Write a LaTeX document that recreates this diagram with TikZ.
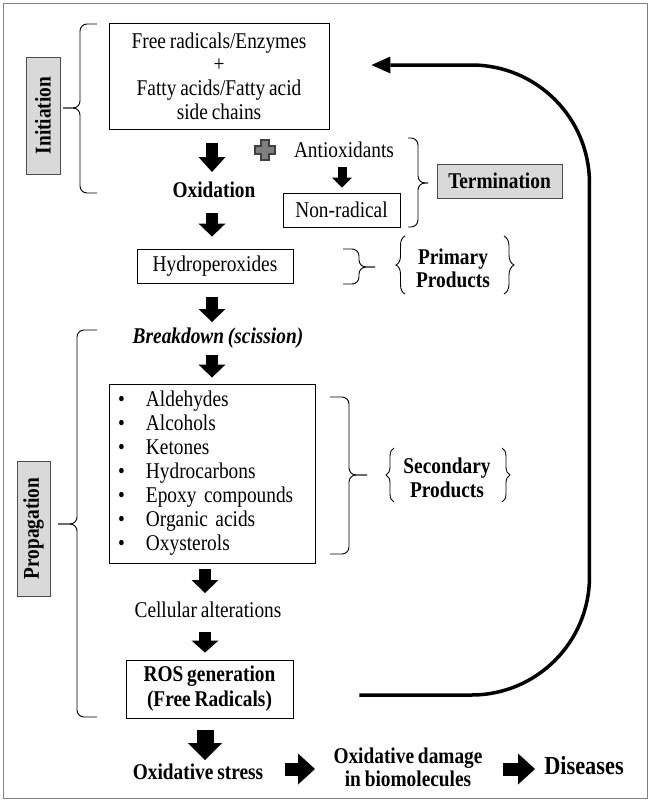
\documentclass[tikz,border=0pt]{standalone}
\usepackage{fontspec}
\setmainfont{Liberation Serif}[FakeStretch=0.86,WordSpace=0.8]
\usetikzlibrary{arrows.meta,calc,decorations.pathreplacing}
\newcommand{\mybr}[6]{%
  \draw[brc2] (#1,#4) -- (#2,#4) -- (#2,#6) -- (#3,#6);
  \draw[brc2] (#1,#5) -- (#2,#5) -- (#2,#6) -- (#3,#6);}
\begin{document}
\begin{tikzpicture}[x=1pt,y=-1pt,
  font=\fontsize{22.5}{24}\selectfont,
  box/.style={draw=black, line width=0.9pt, inner sep=0pt, align=center},
  lbl/.style={inner sep=0pt, align=center},
  bold/.style={inner sep=0pt, align=center, font=\fontsize{22.5}{24}\selectfont\bfseries},
  graybox/.style={draw=black!70, fill=black!15, line width=0.9pt, inner sep=0pt, font=\fontsize{22.5}{24}\selectfont\bfseries},
  blk/.style n args={3}{line width=#1, -{Triangle[width=#2,length=#3,line width=0pt]}},
  brc/.style={decorate, decoration={brace, amplitude=#1}, line width=0.9pt},
  brc2/.style={line width=0.9pt, rounded corners=7pt},
  loop/.style={line width=3.5pt, -{Triangle[width=17pt,length=19pt,line width=0pt]}, rounded corners=118pt}
]
\useasboundingbox (0,0) rectangle (650,801);
\draw[black!50, line width=1pt] (3,3) rectangle (647,798);

% nodes
\node[box, minimum width=220pt, minimum height=106pt, font=\fontsize{22.5}{23.7}\selectfont] (top) at (219,76)
  {Free radicals/Enzymes\\+\\Fatty acids/Fatty acid\\side chains};
\node[graybox, rotate=90, minimum width=117pt, minimum height=34pt] (init) at (43,115.5) {Initiation};
\node[bold] (ox) at (214,190) {Oxidation};
\node[lbl] (anti) at (344,150) {Antioxidants};
\node[box, minimum width=117pt, minimum height=34pt] (nr) at (341.5,210) {Non-radical};
\node[graybox, minimum width=125pt, minimum height=34pt] (term) at (499.5,181) {Termination};
\node[box, minimum width=156pt, minimum height=34pt] (hp) at (215,266) {Hydroperoxides};
\node[bold, font=\fontsize{22.5}{23}\selectfont\bfseries] (pp) at (453,268) {Primary\\Products};
\node[lbl, font=\fontsize{22.5}{24}\selectfont\bfseries\itshape] (bd) at (218,338) {Breakdown (scission)};
\node[box, align=left, text width=188pt, inner xsep=9pt, minimum height=179pt] (list) at (212,473.5)
  {\makebox[28pt][l]{\textbullet}Aldehydes\\
   \makebox[28pt][l]{\textbullet}Alcohols\\
   \makebox[28pt][l]{\textbullet}Ketones\\
   \makebox[28pt][l]{\textbullet}Hydrocarbons\\
   \makebox[28pt][l]{\textbullet}Epoxy compounds\\
   \makebox[28pt][l]{\textbullet}Organic acids\\
   \makebox[28pt][l]{\textbullet}Oxysterols};
\node[bold] (sp) at (447,478) {Secondary\\Products};
\node[graybox, rotate=90, minimum width=135pt, minimum height=33pt] (prop) at (33.5,528.5) {Propagation};
\node[lbl] (cell) at (208,610) {Cellular alterations};
\node[box, minimum width=167pt, minimum height=58pt, font=\fontsize{22.5}{25}\selectfont\bfseries] (ros) at (209.5,689) {ROS generation\\(Free Radicals)};
\node[bold] (os) at (198,772) {Oxidative stress};
\node[bold, font=\fontsize{22.5}{23}\selectfont\bfseries] (dmg) at (408,767) {Oxidative damage\\in biomolecules};
\node[bold, font=\fontsize{26}{28}\selectfont\bfseries] (dis) at (584,766) {Diseases};

% plus sign
\filldraw[fill=black!50, draw=black!75, line width=1.4pt]
  (261,140) -- (269,140) -- (269,146) -- (275,146) -- (275,154) -- (269,154) -- (269,160)
  -- (261,160) -- (261,154) -- (255,154) -- (255,146) -- (261,146) -- cycle;

% block arrows
\draw[blk={12pt}{27pt}{15pt}] ($(top.south)+(-7,14)$) -- ($(ox.center)+(-2,-18)$);
\draw[blk={12pt}{27pt}{13pt}] ($(ox.center)+(-2,23)$) -- ($(hp.north)+(-3,-12)$);
\draw[blk={9pt}{20pt}{10pt}] ($(anti.center)+(-2,17)$) -- ($(nr.north)+(0.5,-5)$);
\draw[blk={12pt}{27pt}{13pt}] ($(hp.south)+(-3,14)$) -- ($(bd.center)+(-6,-16)$);
\draw[blk={12pt}{27pt}{13pt}] ($(bd.center)+(-6,17)$) -- ($(list.north)+(0,-6)$);
\draw[blk={12pt}{27pt}{13pt}] ($(list.south)+(-7,6)$) -- ($(cell.center)+(-3,-17)$);
\draw[blk={12pt}{27pt}{12pt}] ($(cell.center)+(-3,22)$) -- ($(ros.north)+(-4.5,-7)$);
\draw[blk={17pt}{34pt}{17pt}] ($(ros.south)+(-4.5,12)$) -- ($(os.center)+(7,-12)$);
\draw[blk={13pt}{31pt}{17pt}] ($(os.center)+(87,-3)$) -- ($(dmg.center)+(-93,2)$);
\draw[blk={13pt}{31pt}{17pt}] ($(dmg.center)+(95,2)$) -- ($(dis.center)+(-49,3)$);

% feedback loop
\draw[loop] ($(ros.east)+(66,6)$) -| ($(top.east)+(260,-11)$) -- ($(top.east)+(42,-11)$);

% large braces
\mybr{97}{80}{63}{24}{193}{108}
\mybr{97}{77}{58}{330}{717}{524}
\mybr{408}{418}{428}{138}{227}{183}
\mybr{343}{359}{375}{249}{284}{267}
\mybr{330}{349}{367}{397}{554}{475}
% small braces round the product labels
\draw[brc=9pt] (405,294) -- (405,236);
\draw[brc=10pt] (504,236) -- (504,294);
\draw[brc=8pt] (394,502) -- (394,448);
\draw[brc=8pt] (502,448) -- (502,502);
\end{tikzpicture}
\end{document}
